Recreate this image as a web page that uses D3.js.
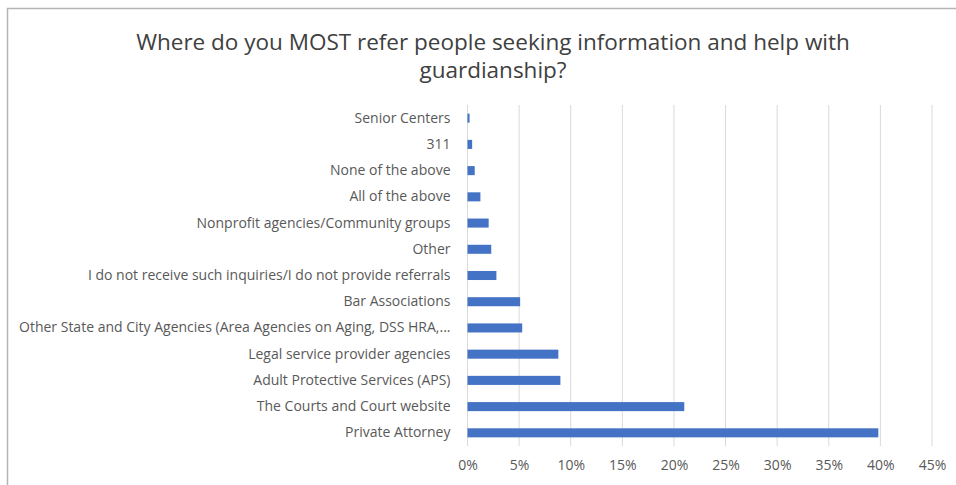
<!DOCTYPE html>
<html>
<head>
<meta charset="utf-8">
<script src="https://cdn.jsdelivr.net/npm/d3@7"></script>
<style>
  html, body { margin: 0; padding: 0; background: #fff; }
  svg { display: block; }
  text { font-family: "Open Sans", "Noto Sans", sans-serif; }
</style>
</head>
<body>
<svg id="chart" width="956" height="485"></svg>
<script>
// Survey answers, listed from top to bottom as they appear on the chart
const categories = [
  "Senior Centers",
  "311",
  "None of the above",
  "All of the above",
  "Nonprofit agencies/Community groups",
  "Other",
  "I do not receive such inquiries/I do not provide referrals",
  "Bar Associations",
  "Other State and City Agencies (Area Agencies on Aging, DSS HRA,...",
  "Legal service provider agencies",
  "Adult Protective Services (APS)",
  "The Courts and Court website",
  "Private Attorney"
];
// Share of respondents, in percent
const shares = [0.2, 0.45, 0.7, 1.25, 2.05, 2.3, 2.8, 5.1, 5.3, 8.8, 9.0, 21.0, 39.8];
const tickValues = [0, 5, 10, 15, 20, 25, 30, 35, 40, 45];
const titleLines = [
  "Where do you MOST refer people seeking information and help with",
  "guardianship?"
];

const svg = d3.select("#chart");

// chart frame
svg.append("path")
  .attr("d", "M7.5,490 V8.5 H960")
  .attr("fill", "none")
  .attr("stroke", "#b4b4b4")
  .attr("stroke-width", 1.5);

// title
svg.append("g")
  .selectAll("text")
  .data(titleLines)
  .join("text")
  .attr("x", 493)
  .attr("y", (d, i) => 50 + i * 28)
  .attr("text-anchor", "middle")
  .attr("font-size", 22.5)
  .attr("fill", "#404040")
  .text(d => d);

const plot = { left: 467.5, right: 932, top: 105, bottom: 446 };

const x = d3.scaleLinear().domain([0, 45]).range([plot.left, plot.right]);
const y = d3.scaleBand()
  .domain(categories)
  .range([plot.top, plot.bottom])
  .paddingInner(0.655)
  .paddingOuter(0.33);

// vertical gridlines
svg.append("g")
  .selectAll("line")
  .data(tickValues)
  .join("line")
  .attr("x1", d => x(d))
  .attr("x2", d => x(d))
  .attr("y1", plot.top)
  .attr("y2", plot.bottom)
  .attr("stroke", "#d9d9d9")
  .attr("stroke-width", 1);

// bars
svg.append("g")
  .selectAll("rect")
  .data(categories)
  .join("rect")
  .attr("x", x(0))
  .attr("y", d => y(d))
  .attr("width", (d, i) => x(shares[i]) - x(0))
  .attr("height", y.bandwidth())
  .attr("fill", "#4472c4");

// x axis labels
const xAxis = d3.axisBottom(x)
  .tickValues(tickValues)
  .tickFormat(d => d + "%")
  .tickSize(0)
  .tickPadding(0);
const gx = svg.append("g")
  .attr("transform", `translate(0,${plot.bottom + 14})`)
  .call(xAxis);
gx.select(".domain").remove();
gx.selectAll("text")
  .attr("font-size", 14)
  .attr("fill", "#595959")
  .attr("font-family", "'Open Sans', sans-serif");

// category labels
const yAxis = d3.axisLeft(y).tickSize(0).tickPadding(17);
const gy = svg.append("g")
  .attr("transform", `translate(${plot.left},0)`)
  .call(yAxis);
gy.select(".domain").remove();
gy.selectAll("text")
  .attr("font-size", 14)
  .attr("fill", "#595959")
  .attr("font-family", "'Open Sans', sans-serif");
</script>
</body>
</html>
